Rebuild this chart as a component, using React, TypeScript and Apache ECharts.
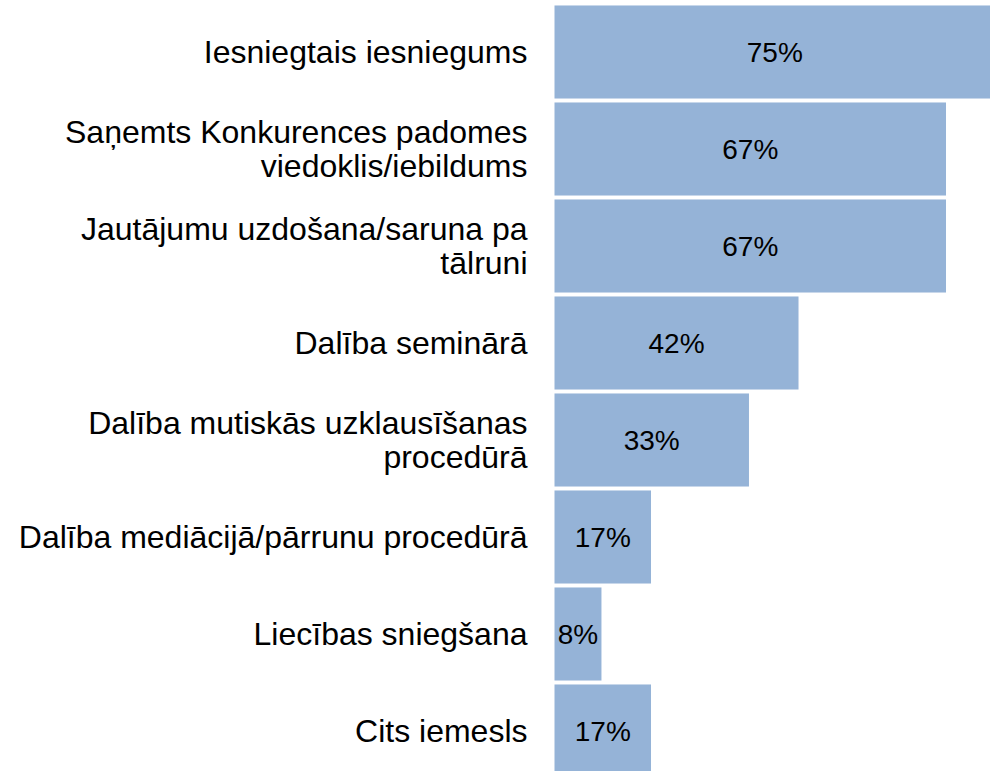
import React, { useEffect, useRef } from "react";
import * as echarts from "echarts";

const categories: string[] = [
  "Iesniegtais iesniegums",
  "Saņemts Konkurences padomes\nviedoklis/iebildums",
  "Jautājumu uzdošana/saruna pa\ntālruni",
  "Dalība seminārā",
  "Dalība mutiskās uzklausīšanas\nprocedūrā",
  "Dalība mediācijā/pārrunu procedūrā",
  "Liecības sniegšana",
  "Cits iemesls",
];

const values: number[] = [75, 66.7, 66.7, 41.7, 33.3, 16.7, 8.3, 16.7];

export default function App() {
  const ref = useRef<HTMLDivElement>(null);
  useEffect(() => {
    if (!ref.current) return;
    const chart = echarts.init(ref.current, undefined, { renderer: "svg" });
    chart.setOption({
      animation: false,
      grid: { left: 553.5, top: 3.5, width: 442.5, height: 776, containLabel: false },
      xAxis: {
        type: "value",
        min: 0,
        max: 75,
        show: false,
      },
      yAxis: {
        type: "category",
        data: categories,
        inverse: true,
        axisLine: { show: false },
        axisTick: { show: false },
        axisLabel: {
          margin: 26,
          fontFamily: "Liberation Sans, Arial, sans-serif",
          fontSize: 32,
          lineHeight: 34,
          color: "#000",
          align: "right",
        },
      },
      series: [
        {
          type: "bar",
          data: values,
          barCategoryGap: "2%",
          itemStyle: { color: "#95b3d7", borderColor: "#ffffff", borderWidth: 1 },
          label: {
            show: true,
            position: "inside",
            formatter: (p: any) => Math.round(p.value) + "%",
            fontFamily: "Liberation Sans, Arial, sans-serif",
            fontSize: 28,
            color: "#000",
          },
        },
      ],
    });
    return () => chart.dispose();
  }, []);
  return (
    <div
      style={{
        position: "absolute",
        left: 0,
        top: 0,
        width: 990,
        height: 771,
        overflow: "hidden",
        background: "#fff",
      }}
    >
      <div ref={ref} style={{ width: 1000, height: 790 }} />
    </div>
  );
}
